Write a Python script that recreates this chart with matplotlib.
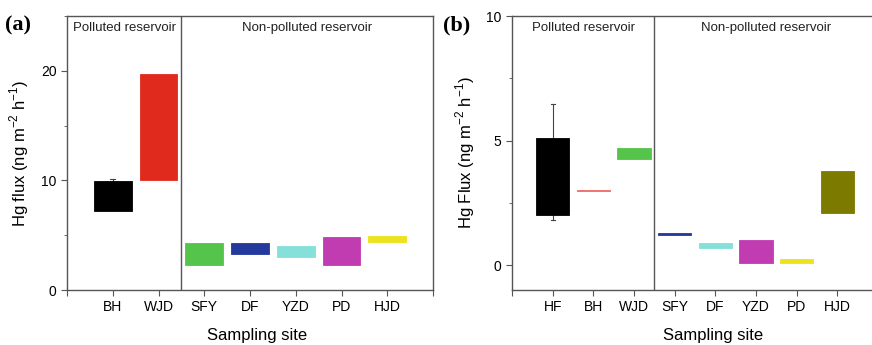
import matplotlib.pyplot as plt
from matplotlib.ticker import MultipleLocator

plt.rcParams["font.family"] = ["Liberation Sans", "DejaVu Sans"]

# (a) flux ranges per site: low / high of the box, plus whisker top where one exists
SITES_A = ["BH", "WJD", "SFY", "DF", "YZD", "PD", "HJD"]
LOW_A = [7.2, 10.0, 2.3, 3.3, 3.0, 2.3, 4.4]
HIGH_A = [9.9, 19.7, 4.3, 4.3, 4.0, 4.8, 4.9]
WHISK_HI_A = [10.1, None, None, None, None, None, None]
WHISK_LO_A = [None] * 7
COLORS_A = ["#000000", "#e02a1e", "#55c44a", "#24399c", "#84e0d8", "#c03cb0", "#ece21e"]

# (b)
SITES_B = ["HF", "BH", "WJD", "SFY", "DF", "YZD", "PD", "HJD"]
LOW_B = [2.0, 2.97, 4.26, 1.20, 0.67, 0.07, 0.07, 2.08]
HIGH_B = [5.09, 3.0, 4.70, 1.28, 0.90, 1.0, 0.23, 3.79]
WHISK_HI_B = [6.48, None, None, None, None, None, None, None]
WHISK_LO_B = [1.81, None, None, None, None, None, None, None]
COLORS_B = ["#000000", "#ef6a6a", "#55c44a", "#24399c", "#84e0d8", "#c03cb0", "#ece21e", "#7d7a00"]


def panel(ax, sites, low, high, w_hi, w_lo, colors, n_polluted, ylim, ylabel, major):
    x = list(range(1, len(sites) + 1))
    heights = [h - l for h, l in zip(high, low)]
    ax.bar(x, heights, bottom=low, width=0.82, color=colors, edgecolor=colors, linewidth=0.6, zorder=3)
    for xi, lo, hi, wh, wl in zip(x, low, high, w_hi, w_lo):
        if wh is not None:
            ax.plot([xi, xi], [hi, wh], color="#444444", lw=0.8, zorder=2)
            ax.plot([xi - 0.05, xi + 0.05], [wh, wh], color="#444444", lw=0.8, zorder=2)
        if wl is not None:
            ax.plot([xi, xi], [lo, wl], color="#444444", lw=0.8, zorder=2)
            ax.plot([xi - 0.05, xi + 0.05], [wl, wl], color="#444444", lw=0.8, zorder=2)

    split = n_polluted + 0.5
    ax.axvline(split, color="#555555", lw=1.0)
    ax.set_xlim(0, len(sites) + 1)
    ax.set_ylim(*ylim)
    ax.set_xticks(range(0, len(sites) + 2))
    ax.set_xticklabels([""] + sites + [""])
    ax.yaxis.set_major_locator(MultipleLocator(major))
    ax.yaxis.set_minor_locator(MultipleLocator(major / 2))
    ax.tick_params(direction="out", labelsize=10, color="#555555", length=4)
    ax.tick_params(which="minor", direction="out", length=2.5, color="#555555")
    for s in ax.spines.values():
        s.set_color("#555555")
        s.set_linewidth(1.0)

    ytxt = ylim[1] - (ylim[1] - ylim[0]) * 0.045
    ax.text(split / 2, ytxt, "Polluted reservoir",
            ha="center", va="center", fontsize=9.5, color="#222222")
    ax.text((split + len(sites) + 1) / 2, ytxt, "Non-polluted reservoir",
            ha="center", va="center", fontsize=9.5, color="#222222")
    ax.set_ylabel(ylabel, fontsize=12)
    ax.set_xlabel("Sampling site", fontsize=12)


fig = plt.figure(figsize=(8.72, 3.45), dpi=100)
W, H = 872, 345
ax_a = fig.add_axes([67 / W, (H - 290) / H, (433 - 67) / W, (290 - 16) / H])
ax_b = fig.add_axes([512 / W, (H - 290) / H, (878 - 512) / W, (290 - 16) / H])

panel(ax_a, SITES_A, LOW_A, HIGH_A, WHISK_HI_A, WHISK_LO_A, COLORS_A, 2, (0, 25),
      r"Hg flux (ng m$^{\mathregular{-2}}$ h$^{\mathregular{-1}}$)", 10)
panel(ax_b, SITES_B, LOW_B, HIGH_B, WHISK_HI_B, WHISK_LO_B, COLORS_B, 3, (-1, 10),
      r"Hg Flux (ng m$^{\mathregular{-2}}$ h$^{\mathregular{-1}}$)", 5)

ax_a.yaxis.set_label_coords(-0.098, 0.5)
ax_b.yaxis.set_label_coords(-0.096, 0.5)
ax_a.xaxis.set_label_coords(0.52, -0.138)
ax_b.xaxis.set_label_coords(0.55, -0.138)

fig.text(5 / W, 1 - 25 / H, "(a)", fontsize=16, fontweight="bold", family="Liberation Serif", va="center")
fig.text(443 / W, 1 - 25 / H, "(b)", fontsize=16, fontweight="bold", family="Liberation Serif", va="center")

fig.savefig("out.png", dpi=100)
